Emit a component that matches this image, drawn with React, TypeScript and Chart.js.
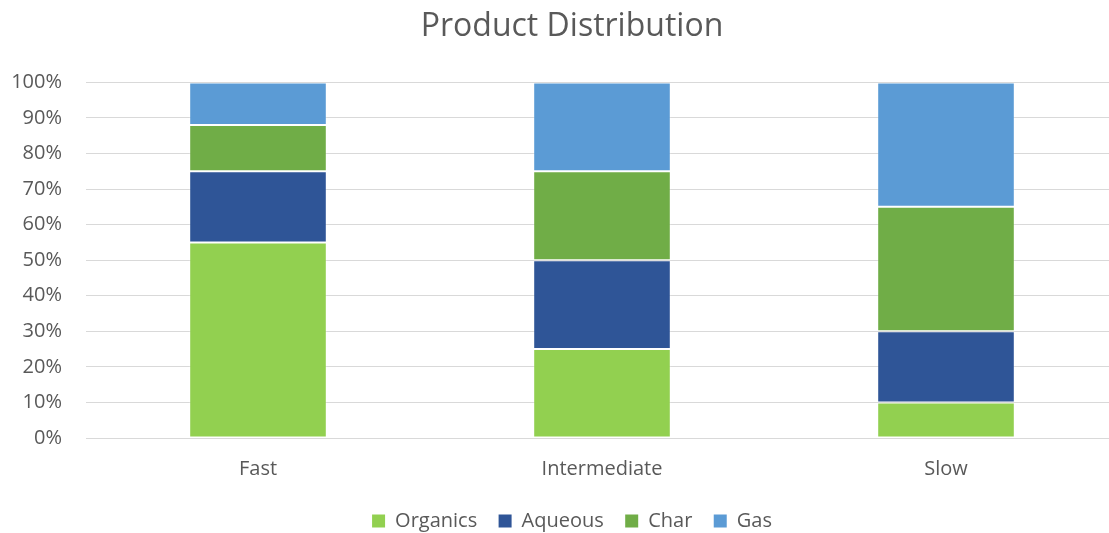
import React, { useEffect, useRef } from "react";
import { Chart, registerables } from "chart.js";

Chart.register(...registerables);

const categories = ["Fast", "Intermediate", "Slow"];
const organics = [55, 25, 10];
const aqueous = [20, 25, 20];
const char = [13, 25, 35];
const gas = [12, 25, 35];
const yTicks = [0, 10, 20, 30, 40, 50, 60, 70, 80, 90, 100];

const seriesNames = ["Organics", "Aqueous", "Char", "Gas"];
const seriesColors = ["#92D050", "#2F5597", "#70AD47", "#5B9BD5"];

const FONT = "'Open Sans', 'Noto Sans', sans-serif";
const TEXT = "#595959";

// Let the y tick labels use the space left of the layout padding,
// so the title and legend stay centred over the wider chart box.
const widenYAxis = {
  id: "widenYAxis",
  afterLayout(chart: any) {
    const y = chart.scales.y;
    if (y) {
      y.left = 0;
      y.width = y.right;
    }
  },
};

export default function App() {
  const ref = useRef<HTMLCanvasElement | null>(null);

  useEffect(() => {
    if (!ref.current) return;
    const values = [organics, aqueous, char, gas];
    const datasets = seriesNames.map((label, i) => ({
      label,
      data: values[i],
      backgroundColor: seriesColors[i],
      borderColor: "rgba(255,255,255,0.22)",
      borderWidth: 1,
      borderSkipped: false,
      categoryPercentage: 1,
      barPercentage: 0.4,
    }));
    const chart = new Chart(ref.current, {
      type: "bar",
      data: { labels: categories, datasets },
      plugins: [widenYAxis],
      options: {
        animation: false,
        responsive: false,
        devicePixelRatio: 1,
        layout: { padding: { left: 26, right: 0, top: 0, bottom: -8 } },
        plugins: {
          title: {
            display: true,
            text: "Product Distribution",
            color: TEXT,
            font: { family: FONT, size: 32, weight: "normal" },
            padding: { top: 8, bottom: 36 },
          },
          legend: {
            position: "bottom",
            labels: {
              color: TEXT,
              font: { family: FONT, size: 20 },
              boxWidth: 13,
              boxHeight: 13,
              padding: 11,
              generateLabels: (c: any) => {
                const items = Chart.defaults.plugins.legend.labels.generateLabels(c);
                return items.map((it: any, i: number) => ({
                  ...it,
                  lineWidth: 0,
                  text: i < items.length - 1 ? it.text + "  " : it.text,
                }));
              },
            },
          },
          tooltip: { enabled: false },
        },
        scales: {
          x: {
            stacked: true,
            grid: { display: false, drawTicks: false },
            border: { display: true, color: "#D9D9D9" },
            ticks: {
              color: TEXT,
              font: { family: FONT, size: 20 },
              padding: 19,
            },
          },
          y: {
            stacked: true,
            min: 0,
            max: 100,
            afterFit: (scale: any) => {
              scale.width = 60;
            },
            afterBuildTicks: (scale: any) => {
              scale.ticks = yTicks.map((v) => ({ value: v }));
            },
            grid: { color: "#D9D9D9", drawTicks: false, lineWidth: 1 },
            border: { display: false },
            ticks: {
              color: TEXT,
              font: { family: FONT, size: 20 },
              padding: 24,
              callback: (v: any) => v + "%",
            },
          },
        },
      },
    });
    return () => chart.destroy();
  }, []);

  return (
    <div style={{ position: "absolute", left: 0, top: 0, width: 1109, height: 533, overflow: "hidden", background: "#fff" }}>
      <canvas ref={ref} width={1118} height={533} style={{ display: "block" }} />
    </div>
  );
}
